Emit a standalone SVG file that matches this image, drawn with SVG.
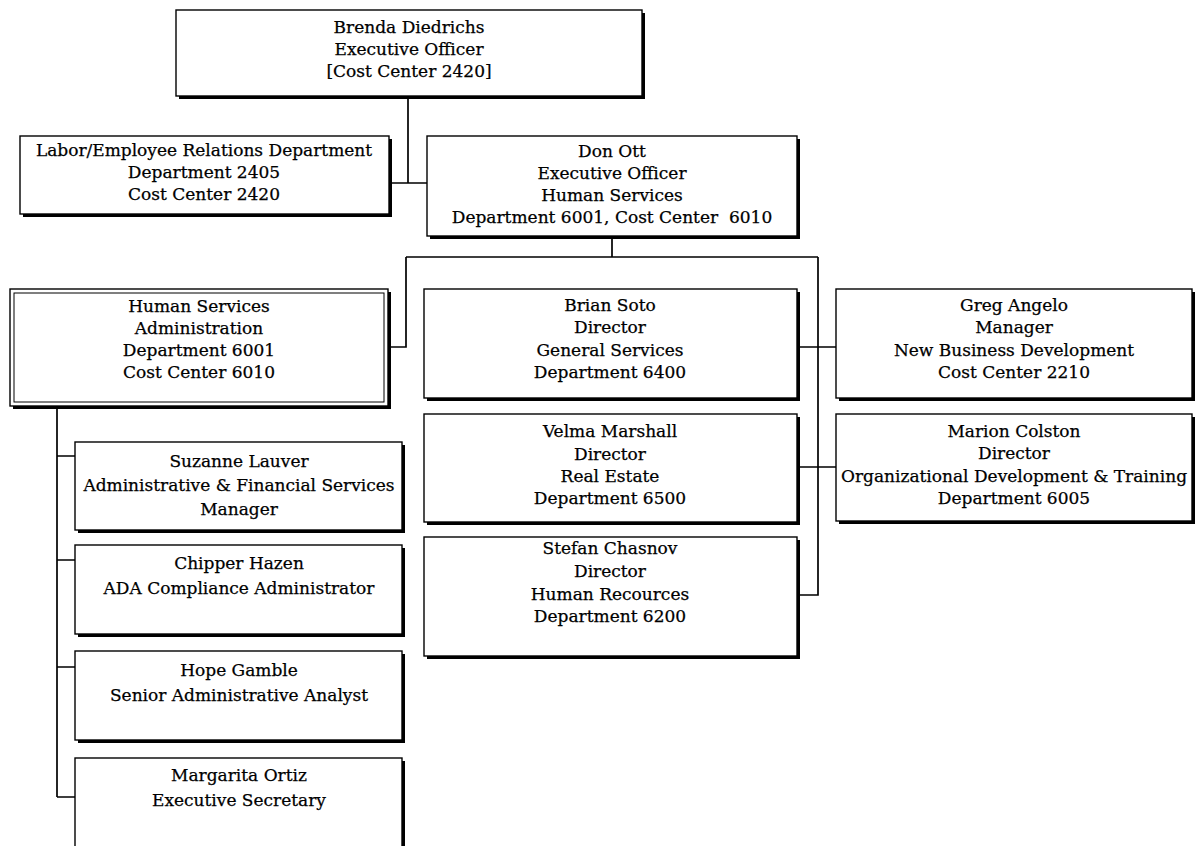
<svg xmlns="http://www.w3.org/2000/svg" width="1201" height="846" viewBox="0 0 1201 846">
<style>
.box{fill:#fff;stroke:#000;stroke-width:1.4}
.sh{fill:#000}
.t{font-family:"DejaVu Serif","Liberation Serif",serif;font-size:17px;fill:#000;stroke:#000;stroke-width:0.25;text-anchor:middle}
.c{fill:none;stroke:#000;stroke-width:1.7}
</style>
<rect width="1201" height="846" fill="#fff"/>
<g id="connectors">
<path class="c" d="M408,97 V183 M389,183 H427"/>
<path class="c" d="M612,236 V257 M406,257 H818 M406,257 V347 H388 M818,257 V595 H798 M798,347 H836 M798,467 H836"/>
<path class="c" d="M57,406 V797 M57,456 H75 M57,560 H75 M57,667 H75 M57,797 H75"/>
</g>
<g id="brenda">
<rect class="sh" x="179" y="13" width="466" height="86"/>
<rect class="box" x="176" y="10" width="466" height="86"/>
<text class="t" x="409" y="33">Brenda Diedrichs</text>
<text class="t" x="409" y="55">Executive Officer</text>
<text class="t" x="409" y="77">[Cost Center 2420]</text>
</g>
<g id="labor">
<rect class="sh" x="23" y="139" width="369" height="78"/>
<rect class="box" x="20" y="136" width="369" height="78"/>
<text class="t" x="204" y="156">Labor/Employee Relations Department</text>
<text class="t" x="204" y="178">Department 2405</text>
<text class="t" x="204" y="200">Cost Center 2420</text>
</g>
<g id="donott">
<rect class="sh" x="430" y="139" width="370" height="100"/>
<rect class="box" x="427" y="136" width="370" height="100"/>
<text class="t" x="612" y="157">Don Ott</text>
<text class="t" x="612" y="179">Executive Officer</text>
<text class="t" x="612" y="201">Human Services</text>
<text class="t" x="612" y="223" xml:space="preserve">Department 6001, Cost Center  6010</text>
</g>
<g id="hsadmin">
<rect class="sh" x="13" y="292" width="378" height="117"/>
<rect class="box" x="10" y="289" width="378" height="117"/>
<rect fill="none" stroke="#000" stroke-width="1" x="14" y="293" width="370" height="109"/>
<text class="t" x="199" y="312">Human Services</text>
<text class="t" x="199" y="334">Administration</text>
<text class="t" x="199" y="356">Department 6001</text>
<text class="t" x="199" y="378">Cost Center 6010</text>
</g>
<g id="brian">
<rect class="sh" x="427" y="292" width="373" height="109"/>
<rect class="box" x="424" y="289" width="373" height="109"/>
<text class="t" x="610" y="311">Brian Soto</text>
<text class="t" x="610" y="333">Director</text>
<text class="t" x="610" y="356">General Services</text>
<text class="t" x="610" y="378">Department 6400</text>
</g>
<g id="velma">
<rect class="sh" x="427" y="417" width="373" height="108"/>
<rect class="box" x="424" y="414" width="373" height="108"/>
<text class="t" x="610" y="437">Velma Marshall</text>
<text class="t" x="610" y="460">Director</text>
<text class="t" x="610" y="482">Real Estate</text>
<text class="t" x="610" y="504">Department 6500</text>
</g>
<g id="stefan">
<rect class="sh" x="427" y="540" width="373" height="119"/>
<rect class="box" x="424" y="537" width="373" height="119"/>
<text class="t" x="610" y="554">Stefan Chasnov</text>
<text class="t" x="610" y="577">Director</text>
<text class="t" x="610" y="600">Human Recources</text>
<text class="t" x="610" y="622">Department 6200</text>
</g>
<g id="greg">
<rect class="sh" x="839" y="292" width="356" height="109"/>
<rect class="box" x="836" y="289" width="356" height="109"/>
<text class="t" x="1014" y="311">Greg Angelo</text>
<text class="t" x="1014" y="333">Manager</text>
<text class="t" x="1014" y="356">New Business Development</text>
<text class="t" x="1014" y="378">Cost Center 2210</text>
</g>
<g id="marion">
<rect class="sh" x="839" y="417" width="356" height="107"/>
<rect class="box" x="836" y="414" width="356" height="107"/>
<text class="t" x="1014" y="437">Marion Colston</text>
<text class="t" x="1014" y="459">Director</text>
<text class="t" x="1014" y="482">Organizational Development &amp; Training</text>
<text class="t" x="1014" y="504">Department 6005</text>
</g>
<g id="suzanne">
<rect class="sh" x="78" y="445" width="327" height="88"/>
<rect class="box" x="75" y="442" width="327" height="88"/>
<text class="t" x="239" y="467">Suzanne Lauver</text>
<text class="t" x="239" y="491">Administrative &amp; Financial Services</text>
<text class="t" x="239" y="515">Manager</text>
</g>
<g id="chipper">
<rect class="sh" x="78" y="548" width="327" height="89"/>
<rect class="box" x="75" y="545" width="327" height="89"/>
<text class="t" x="239" y="569">Chipper Hazen</text>
<text class="t" x="239" y="594">ADA Compliance Administrator</text>
</g>
<g id="hope">
<rect class="sh" x="78" y="654" width="327" height="89"/>
<rect class="box" x="75" y="651" width="327" height="89"/>
<text class="t" x="239" y="676">Hope Gamble</text>
<text class="t" x="239" y="701">Senior Administrative Analyst</text>
</g>
<g id="margarita">
<rect class="sh" x="78" y="761" width="327" height="92"/>
<rect class="box" x="75" y="758" width="327" height="92"/>
<text class="t" x="239" y="781">Margarita Ortiz</text>
<text class="t" x="239" y="806">Executive Secretary</text>
</g>
</svg>
